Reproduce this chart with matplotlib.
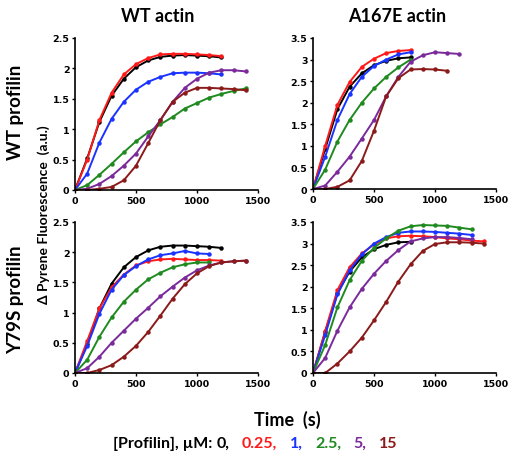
import matplotlib.pyplot as plt
import numpy as np

# time points (s), every 100 s
t = np.arange(0, 1500, 100)

colors = ['black', '#ff1a1a', '#1a33ff', '#1f8a1f', '#7a2a9a', '#8b1a1a']
conc = ['0,', '0.25,', '1,', '2.5,', '5,', '15']

# WT actin / WT profilin
wt_wt = [
    [0, 0.52, 1.12, 1.55, 1.83, 2.02, 2.13, 2.19, 2.21, 2.22, 2.21, 2.20, 2.18],
    [0, 0.50, 1.15, 1.60, 1.90, 2.07, 2.17, 2.23, 2.24, 2.24, 2.23, 2.22, 2.20],
    [0, 0.27, 0.78, 1.17, 1.45, 1.65, 1.78, 1.86, 1.92, 1.93, 1.93, 1.92, 1.90],
    [0, 0.08, 0.25, 0.43, 0.62, 0.80, 0.95, 1.08, 1.20, 1.34, 1.43, 1.52, 1.58, 1.63, 1.67],
    [0, 0.02, 0.10, 0.23, 0.40, 0.60, 0.88, 1.15, 1.45, 1.68, 1.83, 1.93, 1.97, 1.97, 1.95],
    [0, 0.00, 0.02, 0.05, 0.16, 0.40, 0.77, 1.15, 1.45, 1.60, 1.68, 1.68, 1.67, 1.66, 1.64],
]
# A167E actin / WT profilin
mut_wt = [
    [0, 0.93, 1.85, 2.37, 2.68, 2.87, 2.97, 3.03, 3.05],
    [0, 1.00, 1.95, 2.48, 2.83, 3.02, 3.15, 3.20, 3.22],
    [0, 0.75, 1.60, 2.20, 2.60, 2.85, 3.00, 3.12, 3.17],
    [0, 0.45, 1.10, 1.60, 2.00, 2.33, 2.60, 2.82, 3.00],
    [0, 0.08, 0.40, 0.75, 1.17, 1.60, 2.15, 2.60, 2.95, 3.10, 3.17, 3.15, 3.13],
    [0, 0.00, 0.05, 0.20, 0.65, 1.35, 2.15, 2.57, 2.77, 2.78, 2.77, 2.74],
]
# WT actin / Y79S profilin
wt_y79 = [
    [0, 0.48, 1.07, 1.48, 1.75, 1.92, 2.03, 2.09, 2.11, 2.11, 2.10, 2.09, 2.07],
    [0, 0.53, 1.07, 1.42, 1.63, 1.78, 1.85, 1.88, 1.89, 1.88, 1.87, 1.87, 1.86],
    [0, 0.45, 0.98, 1.38, 1.62, 1.77, 1.88, 1.95, 1.98, 2.02, 1.98, 1.97],
    [0, 0.22, 0.60, 0.92, 1.18, 1.38, 1.55, 1.66, 1.75, 1.80, 1.83, 1.83],
    [0, 0.08, 0.27, 0.50, 0.70, 0.90, 1.08, 1.27, 1.43, 1.58, 1.70, 1.78, 1.83, 1.85, 1.86],
    [0, 0.00, 0.05, 0.13, 0.27, 0.45, 0.68, 0.95, 1.23, 1.47, 1.65, 1.77, 1.83, 1.85, 1.86],
]
# A167E actin / Y79S profilin
mut_y79 = [
    [0, 0.95, 1.85, 2.35, 2.68, 2.87, 2.97, 3.03, 3.04],
    [0, 0.98, 1.92, 2.45, 2.77, 2.98, 3.12, 3.17, 3.18, 3.17, 3.15, 3.12, 3.10, 3.07, 3.05],
    [0, 0.88, 1.82, 2.38, 2.75, 3.00, 3.15, 3.25, 3.28, 3.28, 3.27, 3.25, 3.23, 3.20],
    [0, 0.65, 1.52, 2.15, 2.60, 2.90, 3.12, 3.30, 3.40, 3.43, 3.42, 3.41, 3.37, 3.33],
    [0, 0.35, 0.98, 1.52, 1.95, 2.30, 2.60, 2.85, 3.05, 3.12, 3.15, 3.15, 3.13, 3.10],
    [0, 0.00, 0.22, 0.50, 0.82, 1.22, 1.65, 2.12, 2.52, 2.83, 2.99, 3.03, 3.03, 3.02, 3.00],
]

W, H = 514, 460
fig = plt.figure(figsize=(W / 100, H / 100), dpi=100)


def px(x0, y0, x1, y1):
    return [x0 / W, 1 - y1 / H, (x1 - x0) / W, (y1 - y0) / H]


panels = [
    (px(75, 39, 258, 191), wt_wt, 2.5),
    (px(313, 39, 496, 190), mut_wt, 3.5),
    (px(75, 223, 258, 374), wt_y79, 2.5),
    (px(313, 223, 496, 374), mut_y79, 3.5),
]

for rect, data, ymax in panels:
    ax = fig.add_axes(rect)
    for vals, c in zip(data, colors):
        ax.plot(t[:len(vals)], vals, color=c, lw=1.4, marker='o', ms=2.2)
    ax.set_xlim(0, 1500)
    ax.set_ylim(0, ymax)
    yt = np.arange(0, ymax + 0.01, 0.5)
    ax.set_xticks([0, 500, 1000, 1500])
    ax.set_yticks(yt)
    ax.set_yticklabels(['%g' % v for v in yt])
    for s in ['top', 'right']:
        ax.spines[s].set_visible(False)
    for s in ['left', 'bottom']:
        ax.spines[s].set_linewidth(1.2)
    ax.tick_params(labelsize=6.8, length=2, width=1, pad=2)
    for lab in ax.get_xticklabels() + ax.get_yticklabels():
        lab.set_fontweight('bold')

tfont = dict(family='Lato', fontweight='bold')
fig.text(158 / W, 1 - 16 / H, 'WT actin', ha='center', va='center', fontsize=13, **tfont)
fig.text(397 / W, 1 - 16 / H, 'A167E actin', ha='center', va='center', fontsize=13, **tfont)
fig.text(16 / W, 1 - 112 / H, 'WT profilin', ha='center', va='center', rotation=90, fontsize=13.5, **tfont)
fig.text(16 / W, 1 - 300 / H, 'Y79S profilin', ha='center', va='center', rotation=90, fontsize=13.5, **tfont)
fig.text(44 / W, 1 - 215 / H, '\u0394 Pyrene Fluorescence  (a.u.)', ha='center', va='center',
         rotation=90, fontsize=10, **tfont)
fig.text(287 / W, 1 - 420 / H, 'Time  (s)', ha='center', va='center', fontsize=13, **tfont)

# colored legend line, each piece placed after the previous one
prev = fig.text(113 / W, 1 - 444 / H, '[Profilin], \u00b5M: ', ha='left', va='center',
                fontsize=11.5, color='black', **tfont)
for i, (lab, c) in enumerate(zip(conc, colors)):
    prev = fig.add_artist(plt.Annotation(lab, xy=(1, 0.5), xycoords=prev,
                                         xytext=(0 if i == 0 else 9, 0), textcoords='offset points',
                                         ha='left', va='center', fontsize=11.5, color=c, **tfont))

fig.savefig('out.png', dpi=100)
